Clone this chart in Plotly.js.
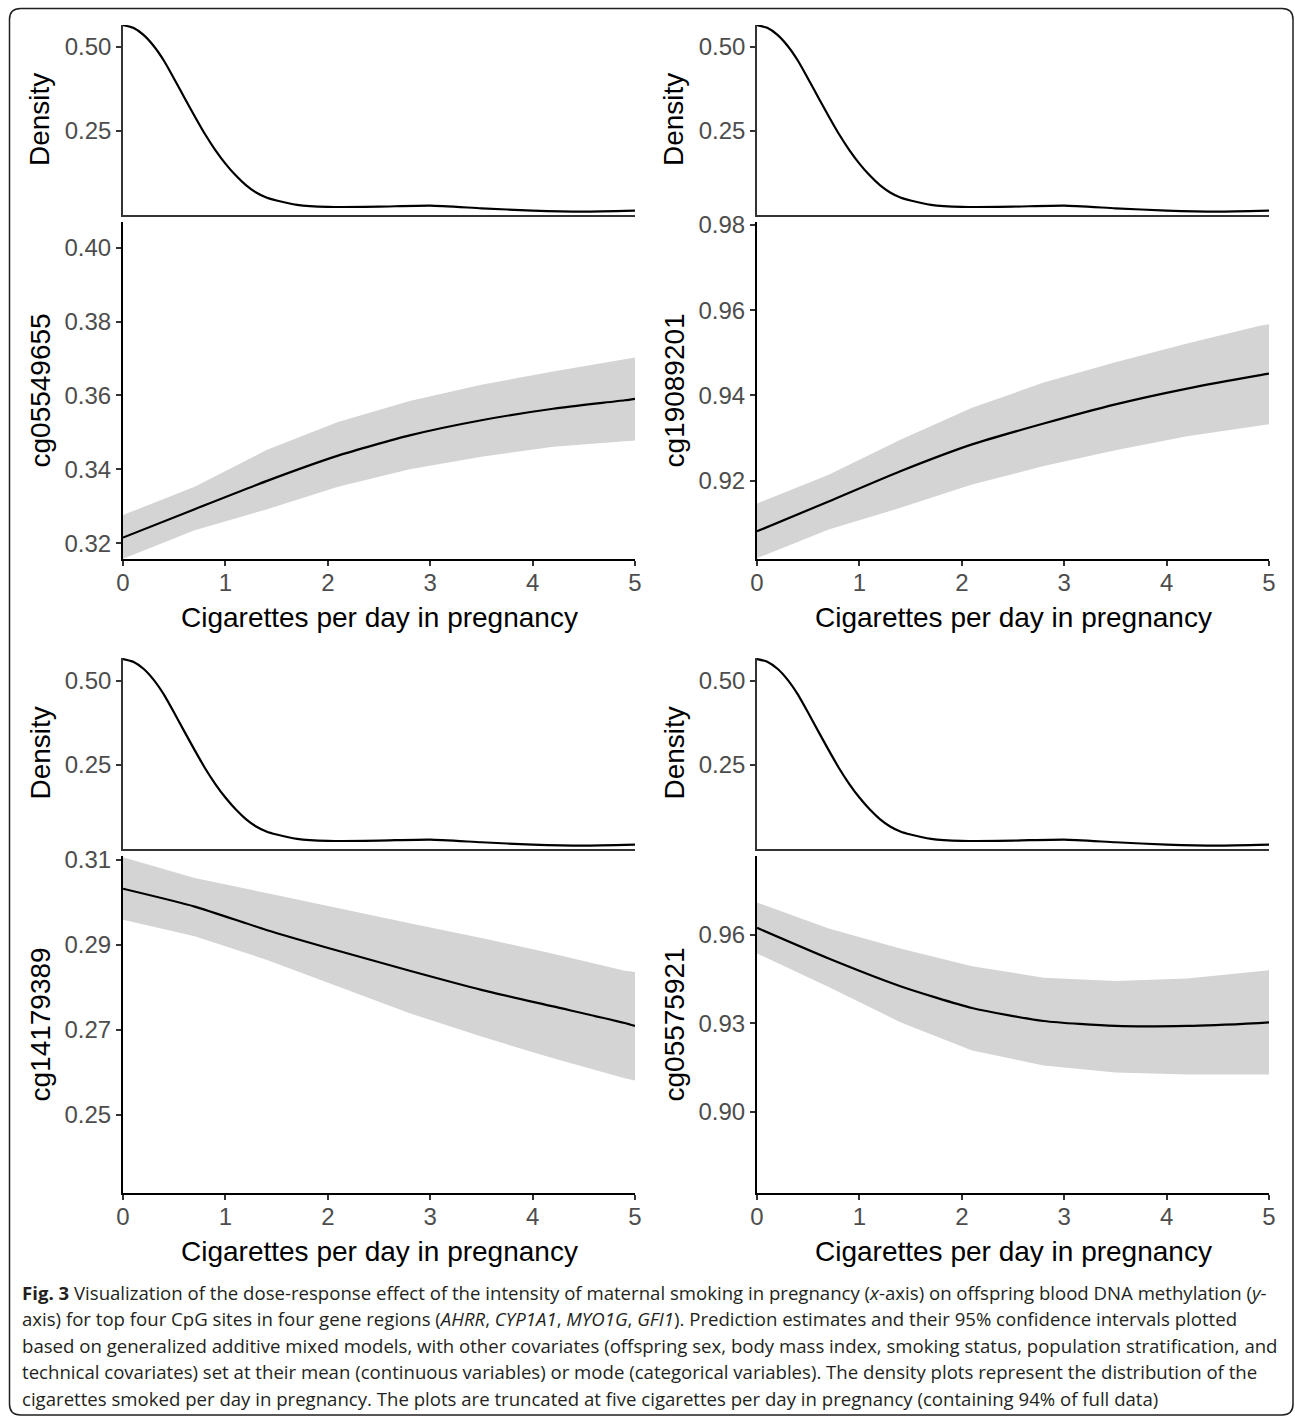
<!DOCTYPE html>
<html>
<head>
<meta charset="utf-8">
<script src="https://cdn.plot.ly/plotly-3.0.1.min.js"></script>
<style>html,body{margin:0;padding:0;background:#fff;}#chart{width:1295px;height:1418px;}</style>
</head>
<body>
<div id="chart"></div>
<script>
// ---- data ----
const cigX = [0, 0.7, 1.4, 2.1, 2.8, 3.5, 4.2, 4.9, 5];

const densX = [0, 0.1, 0.2, 0.3, 0.4, 0.5, 0.6, 0.7, 0.8, 0.9, 1.0, 1.1, 1.2, 1.3, 1.4, 1.5, 1.7, 2.0, 2.5, 3.0, 3.5, 4.0, 4.5, 5.0];
const densY = [0.565, 0.557, 0.536, 0.503, 0.459, 0.405, 0.349, 0.294, 0.241, 0.194, 0.153, 0.118, 0.089, 0.067, 0.052, 0.043, 0.030, 0.024, 0.025, 0.028, 0.020, 0.013, 0.010, 0.013];

const siteNames = ["cg05549655", "cg19089201", "cg14179389", "cg05575921"];

const p1Fit = [0.3215, 0.3292, 0.3368, 0.3437, 0.3492, 0.3533, 0.3564, 0.3587, 0.3591];
const p1Up  = [0.3276, 0.3353, 0.3452, 0.3528, 0.3585, 0.3629, 0.3665, 0.3698, 0.3703];
const p1Lo  = [0.3158, 0.3235, 0.3291, 0.3353, 0.3400, 0.3434, 0.3461, 0.3476, 0.3478];

const p2Fit = [0.9081, 0.9151, 0.9222, 0.9285, 0.9334, 0.9379, 0.9416, 0.9447, 0.9451];
const p2Up  = [0.9146, 0.9214, 0.9296, 0.9371, 0.9430, 0.9478, 0.9522, 0.9563, 0.9567];
const p2Lo  = [0.9018, 0.9085, 0.9136, 0.9191, 0.9234, 0.9271, 0.9304, 0.9329, 0.9332];

const p3Fit = [0.3032, 0.2990, 0.2935, 0.2886, 0.2839, 0.2794, 0.2755, 0.2716, 0.2709];
const p3Up  = [0.3106, 0.3057, 0.3022, 0.2986, 0.2951, 0.2916, 0.2879, 0.2839, 0.2836];
const p3Lo  = [0.2959, 0.2920, 0.2865, 0.2802, 0.2739, 0.2684, 0.2633, 0.2586, 0.2581];

const p4Fit = [0.9624, 0.9520, 0.9426, 0.9352, 0.9308, 0.9291, 0.9291, 0.9301, 0.9303];
const p4Up  = [0.9710, 0.9622, 0.9554, 0.9494, 0.9455, 0.9444, 0.9452, 0.9478, 0.9480];
const p4Lo  = [0.9537, 0.9423, 0.9304, 0.9208, 0.9157, 0.9133, 0.9126, 0.9126, 0.9126];

const xTicks = [0, 1, 2, 3, 4, 5];
const densTicks = [0.25, 0.50];
const densTickText = ["0.25", "0.50"];
const p1Ticks = [0.32, 0.34, 0.36, 0.38, 0.40];
const p1TickText = ["0.32", "0.34", "0.36", "0.38", "0.40"];
const p2Ticks = [0.92, 0.94, 0.96, 0.98];
const p2TickText = ["0.92", "0.94", "0.96", "0.98"];
const p3Ticks = [0.25, 0.27, 0.29, 0.31];
const p3TickText = ["0.25", "0.27", "0.29", "0.31"];
const p4Ticks = [0.90, 0.93, 0.96];
const p4TickText = ["0.90", "0.93", "0.96"];

const xTitle = "Cigarettes per day in pregnancy";
const densTitle = "Density";

const captionLines = [
  "<b>Fig. 3</b> Visualization of the dose-response effect of the intensity of maternal smoking in pregnancy (<i>x</i>-axis) on offspring blood DNA methylation (<i>y</i>-",
  "axis) for top four CpG sites in four gene regions (<i>AHRR</i>, <i>CYP1A1</i>, <i>MYO1G</i>, <i>GFI1</i>). Prediction estimates and their 95% confidence intervals plotted",
  "based on generalized additive mixed models, with other covariates (offspring sex, body mass index, smoking status, population stratification, and",
  "technical covariates) set at their mean (continuous variables) or mode (categorical variables). The density plots represent the distribution of the",
  "cigarettes smoked per day in pregnancy. The plots are truncated at five cigarettes per day in pregnancy (containing 94% of full data)"
];

// ---- layout geometry (pixels) ----
const W = 1295, H = 1418;
const px = v => v / W;
const py = v => 1 - v / H;
const colX = [[123, 635], [757, 1269]];
const rowDens = [[25, 215], [658, 849]];
const rowMain = [[222, 559], [856, 1193]];
const titleX = [40, 674];
const xTitleY = [617, 1251];

const panels = [
  {fit: p1Fit, up: p1Up, lo: p1Lo, ticks: p1Ticks, text: p1TickText, range: [0.3157, 0.4070], col: 0, row: 0, densTop: 0.5655},
  {fit: p2Fit, up: p2Up, lo: p2Lo, ticks: p2Ticks, text: p2TickText, range: [0.9016, 0.9807], col: 1, row: 0, densTop: 0.5655},
  {fit: p3Fit, up: p3Up, lo: p3Lo, ticks: p3Ticks, text: p3TickText, range: [0.2316, 0.3109], col: 0, row: 1, densTop: 0.568},
  {fit: p4Fit, up: p4Up, lo: p4Lo, ticks: p4Ticks, text: p4TickText, range: [0.8724, 0.9868], col: 1, row: 1, densTop: 0.568}
];

const tickFont = {family: "Liberation Sans, Arial, sans-serif", size: 24, color: "#4d4d4d"};
const titleFont = {family: "Liberation Sans, Arial, sans-serif", size: 28, color: "#000000"};

const traces = [];
const layout = {
  width: W, height: H,
  margin: {l: 0, r: 0, t: 0, b: 0, pad: 0},
  paper_bgcolor: "#ffffff", plot_bgcolor: "#ffffff",
  showlegend: false,
  font: {family: "Liberation Sans, Arial, sans-serif"},
  annotations: [], shapes: []
};

panels.forEach((p, i) => {
  const dIdx = 2 * i + 1, mIdx = 2 * i + 2;
  const dx = "x" + dIdx, dy = "y" + dIdx, mx = "x" + mIdx, my = "y" + mIdx;
  const xdom = [px(colX[p.col][0]), px(colX[p.col][1])];

  // density curve
  traces.push({x: densX, y: densY, xaxis: dx, yaxis: dy, type: "scatter", mode: "lines",
    line: {color: "#000000", width: 2.2, shape: "spline", smoothing: 0.5}, hoverinfo: "skip"});
  // ribbon
  traces.push({x: cigX, y: p.lo, xaxis: mx, yaxis: my, type: "scatter", mode: "lines",
    line: {width: 0, color: "#d3d3d3"}, hoverinfo: "skip"});
  traces.push({x: cigX, y: p.up, xaxis: mx, yaxis: my, type: "scatter", mode: "lines",
    line: {width: 0, color: "#d3d3d3"}, fill: "tonexty", fillcolor: "#d4d4d4", hoverinfo: "skip"});
  // fitted line
  traces.push({x: cigX, y: p.fit, xaxis: mx, yaxis: my, type: "scatter", mode: "lines",
    line: {color: "#000000", width: 2.2, shape: "spline", smoothing: 0.6}, hoverinfo: "skip"});

  const kx = i === 0 ? "xaxis" : "xaxis" + dIdx;
  const ky = i === 0 ? "yaxis" : "yaxis" + dIdx;
  layout[kx] = {domain: xdom, anchor: dy, range: [0, 5], showline: true, linecolor: "#333333", linewidth: 1.5,
    showticklabels: false, ticks: "", showgrid: false, zeroline: false, fixedrange: true};
  layout[ky] = {domain: [py(rowDens[p.row][1]), py(rowDens[p.row][0])], anchor: dx, range: [0, p.densTop],
    showline: true, linecolor: "#333333", linewidth: 1.5, ticks: "outside", ticklen: 5, tickwidth: 1.5, tickcolor: "#333333",
    tickmode: "array", tickvals: densTicks, ticktext: densTickText, tickfont: tickFont,
    showgrid: false, zeroline: false, fixedrange: true};
  layout["xaxis" + mIdx] = {domain: xdom, anchor: my, range: [0, 5], showline: true, linecolor: "#000000", linewidth: 2,
    ticks: "outside", ticklen: 5, tickwidth: 1.5, tickcolor: "#333333", tickmode: "array", tickvals: xTicks,
    ticktext: xTicks.map(String), tickfont: tickFont, ticklabelstandoff: -4,
    showgrid: false, zeroline: false, fixedrange: true};
  layout["yaxis" + mIdx] = {domain: [py(rowMain[p.row][1]), py(rowMain[p.row][0])], anchor: mx, range: p.range,
    showline: true, linecolor: "#000000", linewidth: 2, ticks: "outside", ticklen: 5, tickwidth: 1.5, tickcolor: "#333333",
    tickmode: "array", tickvals: p.ticks, ticktext: p.text, tickfont: tickFont,
    showgrid: false, zeroline: false, fixedrange: true};

  // titles
  layout.annotations.push({xref: "paper", yref: "paper", x: px(titleX[p.col]),
    y: py((rowDens[p.row][0] + rowDens[p.row][1]) / 2), text: densTitle, textangle: -90,
    showarrow: false, xanchor: "center", yanchor: "middle", font: titleFont});
  layout.annotations.push({xref: "paper", yref: "paper", x: px(titleX[p.col]),
    y: py((rowMain[p.row][0] + rowMain[p.row][1]) / 2), text: siteNames[i], textangle: -90,
    showarrow: false, xanchor: "center", yanchor: "middle", font: titleFont});
  layout.annotations.push({xref: "paper", yref: "paper", x: px((colX[p.col][0] + colX[p.col][1]) / 2),
    y: py(xTitleY[p.row]), text: xTitle, showarrow: false, xanchor: "center", yanchor: "middle", font: titleFont});
});

// caption
const capY = [1292, 1318.5, 1345, 1371.5, 1398];
captionLines.forEach((t, k) => {
  layout.annotations.push({xref: "paper", yref: "paper", x: px(20), y: py(capY[k]), text: t,
    showarrow: false, xanchor: "left", yanchor: "middle", align: "left",
    font: {family: "Open Sans, Noto Sans, sans-serif", size: 18.6, color: "#231f20"}});
});

// rounded frame
const x0 = px(9.5), x1 = px(1293), y0 = py(1415), y1 = py(8.5), rx = px(11), ry = 11 / H;
layout.shapes.push({type: "path", xref: "paper", yref: "paper", layer: "above",
  path: `M ${x0 + rx},${y1} L ${x1 - rx},${y1} Q ${x1},${y1} ${x1},${y1 - ry} L ${x1},${y0 + ry} Q ${x1},${y0} ${x1 - rx},${y0} L ${x0 + rx},${y0} Q ${x0},${y0} ${x0},${y0 + ry} L ${x0},${y1 - ry} Q ${x0},${y1} ${x0 + rx},${y1} Z`,
  line: {color: "#231f20", width: 1.5}, fillcolor: "rgba(0,0,0,0)"});

Plotly.newPlot("chart", traces, layout, {displayModeBar: false, responsive: false});
</script>
</body>
</html>
